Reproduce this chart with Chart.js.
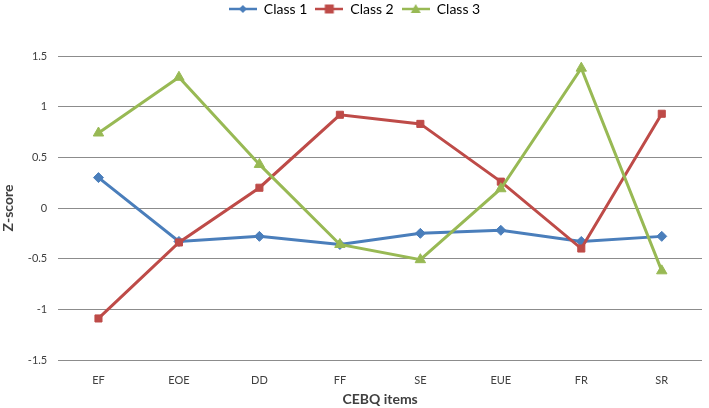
<!DOCTYPE html>
<html>
<head>
<meta charset="utf-8">
<script src="https://cdn.jsdelivr.net/npm/chart.js@4/dist/chart.umd.min.js"></script>
<style>
html,body{margin:0;padding:0;background:#fff;}
#wrap{width:709px;height:408px;position:relative;}
</style>
</head>
<body>
<div id="wrap"><canvas id="c"></canvas></div>
<script>
const categories = ["EF","EOE","DD","FF","SE","EUE","FR","SR"];
const class1 = [0.30,-0.33,-0.28,-0.36,-0.25,-0.22,-0.33,-0.28];
const class2 = [-1.09,-0.34,0.20,0.92,0.83,0.26,-0.40,0.93];
const class3 = [0.74,1.29,0.43,-0.36,-0.51,0.19,1.38,-0.62];
const yTicks = [-1.5,-1,-0.5,0,0.5,1,1.5];
const seriesNames = ["Class 1","Class 2","Class 3"];

const colors = ["#4A7EBB","#BE4B48","#98B954"];
const styles = ["rectRot","rect","triangle"];
const radii = [5,5,6];

function legendIcon(color, style){
  const cv = document.createElement('canvas');
  const w = 28, h = 12, dpr = window.devicePixelRatio || 1;
  cv.width = w*dpr; cv.height = h*dpr;
  cv.style.width = w+'px'; cv.style.height = h+'px';
  const ctx = cv.getContext('2d');
  ctx.scale(dpr,dpr);
  ctx.strokeStyle = color; ctx.fillStyle = color; ctx.lineWidth = 2.5;
  ctx.beginPath(); ctx.moveTo(0,h/2); ctx.lineTo(w,h/2); ctx.stroke();
  const cx = w/2, cy = h/2;
  ctx.beginPath();
  if(style==='rectRot'){ ctx.moveTo(cx,cy-4); ctx.lineTo(cx+4,cy); ctx.lineTo(cx,cy+4); ctx.lineTo(cx-4,cy); }
  else if(style==='rect'){ ctx.rect(cx-4.5,cy-4.5,9,9); }
  else { ctx.moveTo(cx,cy-5); ctx.lineTo(cx+5,cy+4); ctx.lineTo(cx-5,cy+4); }
  ctx.closePath(); ctx.fill();
  return cv;
}

const dataArrays = [class1,class2,class3];
const datasets = dataArrays.map((d,i)=>({
  label: seriesNames[i],
  data: d,
  borderColor: colors[i],
  backgroundColor: colors[i],
  borderWidth: 3,
  pointStyle: styles[i],
  pointRadius: radii[i],
  pointHoverRadius: radii[i],
  pointBorderWidth: 1,
  tension: 0,
  fill: false
}));

const legendSpace = {
  id: 'legendSpace',
  beforeInit(chart){
    const fit = chart.legend.fit;
    chart.legend.fit = function(){ fit.bind(chart.legend)(); this.height += 30; };
  }
};

Chart.defaults.font.family = "Lato, 'Open Sans', sans-serif";
Chart.defaults.color = "#404040";

new Chart(document.getElementById('c'), {
  type: 'line',
  data: { labels: categories, datasets: datasets.slice().reverse() },
  plugins: [legendSpace],
  options: {
    responsive: true,
    maintainAspectRatio: false,
    animation: false,
    layout: { padding: { left: 0, right: 0, top: -6, bottom: 0 } },
    plugins: {
      legend: {
        position: 'top',
        align: 'center',
        labels: {
          usePointStyle: true,
          pointStyleWidth: 28,
          boxWidth: 28,
          boxHeight: 12,
          padding: 8,
          color: '#333',
          font: { size: 14 },
          generateLabels: (chart) => seriesNames.map((n,i)=>({
            text: n,
            pointStyle: legendIcon(colors[i], styles[i]),
            fillStyle: colors[i],
            strokeStyle: colors[i],
            lineWidth: 0,
            hidden: false,
            datasetIndex: 2-i
          }))
        }
      },
      tooltip: { enabled: false }
    },
    scales: {
      x: {
        offset: true,
        grid: { display: false },
        border: { display: false },
        ticks: { color: '#404040', font: { size: 11 }, padding: 6 },
        title: { display: true, text: 'CEBQ items', color: '#404040', font: { size: 14, weight: 'bold' }, padding: { top: -2, bottom: 0 } }
      },
      y: {
        min: -1.5,
        max: 1.5,
        afterBuildTicks: (axis) => { axis.ticks = yTicks.map(v=>({value:v})); },
        grid: { color: '#8C8C8C', lineWidth: 1, drawTicks: false },
        border: { display: false },
        ticks: { color: '#404040', font: { size: 11 }, padding: 11, callback: (v)=>String(v) },
        title: { display: true, text: 'Z-score', color: '#404040', font: { size: 14, weight: 'bold' }, padding: { top: 0, bottom: 0 } }
      }
    }
  }
});
</script>
</body>
</html>
